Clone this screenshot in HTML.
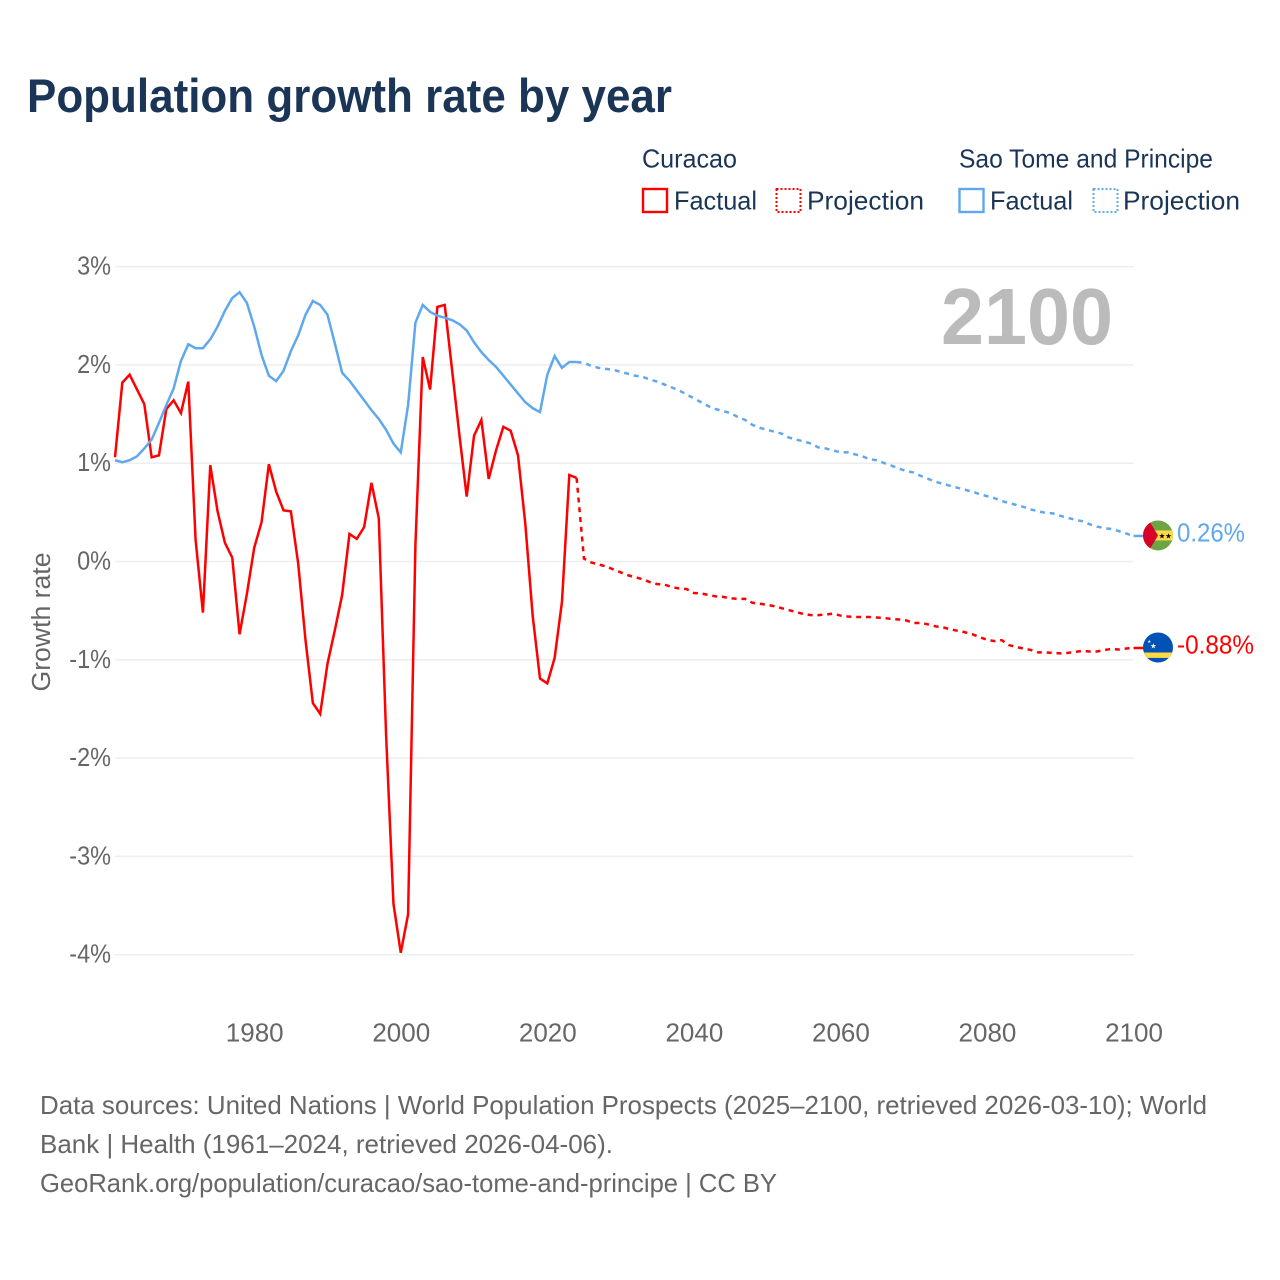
<!DOCTYPE html>
<html lang="en">
<head>
<meta charset="utf-8">
<title>Population growth rate by year</title>
<style>
html,body{margin:0;padding:0;background:#fff;width:1280px;height:1280px;overflow:hidden}
svg{display:block;font-family:"Liberation Sans",sans-serif}
</style>
</head>
<body>
<svg id="chart" xmlns="http://www.w3.org/2000/svg" width="1280" height="1280" viewBox="0 0 1280 1280">
  <defs>
    <clipPath id="flag-clip"><circle cx="0" cy="0" r="15"/></clipPath>
  </defs>
  <rect x="0" y="0" width="1280" height="1280" fill="#fff"/>
  <text x="27" y="112" font-size="47" font-weight="700" fill="#1a3556" textLength="645" lengthAdjust="spacingAndGlyphs">Population growth rate by year</text>

  <g font-size="26" fill="#1a3556">
    <text x="642" y="167.5" textLength="95" lengthAdjust="spacingAndGlyphs">Curacao</text>
    <text x="959" y="167.5" textLength="254" lengthAdjust="spacingAndGlyphs">Sao Tome and Principe</text>
    <rect x="643" y="189" width="24" height="23" fill="none" stroke="#ff0000" stroke-width="2.4"/>
    <text x="674" y="209.5" textLength="83" lengthAdjust="spacingAndGlyphs">Factual</text>
    <rect x="776.5" y="189" width="24" height="23" fill="none" stroke="#ff0000" stroke-width="2" stroke-dasharray="2 2"/>
    <text x="807" y="209.5" textLength="117" lengthAdjust="spacingAndGlyphs">Projection</text>
    <rect x="959.5" y="189" width="24" height="23" fill="none" stroke="#5fa8ee" stroke-width="2.4"/>
    <text x="990" y="209.5" textLength="83" lengthAdjust="spacingAndGlyphs">Factual</text>
    <rect x="1093.5" y="189" width="24" height="23" fill="none" stroke="#5fa8ee" stroke-width="2" stroke-dasharray="2 2"/>
    <text x="1123" y="209.5" textLength="117" lengthAdjust="spacingAndGlyphs">Projection</text>
  </g>

  <g id="grid"></g>
  <g id="yticks" font-size="25.5" fill="#666"></g>
  <g id="xticks" font-size="26" fill="#666"></g>

  <text transform="translate(50 622) rotate(-90)" text-anchor="middle" font-size="25.5" fill="#666" textLength="139" lengthAdjust="spacingAndGlyphs">Growth rate</text>
  <text x="941" y="344" font-size="80" font-weight="700" fill="#bbbbbb" textLength="172" lengthAdjust="spacingAndGlyphs">2100</text>

  <g id="series"></g>

  <g id="flag-stp">
    <g clip-path="url(#flag-clip)">
      <rect x="-15" y="-15" width="30" height="30" fill="#6da544"/>
      <rect x="-15" y="-5" width="30" height="10" fill="#ffda44"/>
      <path d="M-15 -15 H-9 L0 0 L-9 15 H-15 Z" fill="#d80027"/>
    </g>
    <text x="4" y="3.2" font-size="7.5" text-anchor="middle" fill="#000" font-family="DejaVu Sans, sans-serif">★</text>
    <text x="10.5" y="3.2" font-size="7.5" text-anchor="middle" fill="#000" font-family="DejaVu Sans, sans-serif">★</text>
  </g>
  <g id="flag-cuw">
    <g clip-path="url(#flag-clip)">
      <rect x="-15" y="-15" width="30" height="30" fill="#0052b4"/>
      <rect x="-15" y="5" width="30" height="5.4" fill="#ffda44"/>
    </g>
    <text x="-4.7" y="1" font-size="7.5" text-anchor="middle" fill="#f0f0f0" font-family="DejaVu Sans, sans-serif">★</text>
    <text x="-8.8" y="-4.5" font-size="4.5" text-anchor="middle" fill="#f0f0f0" font-family="DejaVu Sans, sans-serif">★</text>
  </g>

  <text id="label-stp" font-size="25.5" fill="#5fa8ee" textLength="68" lengthAdjust="spacingAndGlyphs"></text>
  <text id="label-cuw" font-size="25.5" fill="#ff0000" textLength="77" lengthAdjust="spacingAndGlyphs"></text>

  <g font-size="26" fill="#666">
    <text x="40" y="1114" textLength="1167" lengthAdjust="spacingAndGlyphs">Data sources: United Nations | World Population Prospects (2025–2100, retrieved 2026-03-10); World</text>
    <text x="40" y="1153" textLength="573" lengthAdjust="spacingAndGlyphs">Bank | Health (1961–2024, retrieved 2026-04-06).</text>
    <text x="40" y="1192" textLength="737" lengthAdjust="spacingAndGlyphs">GeoRank.org/population/curacao/sao-tome-and-principe | CC BY</text>
  </g>
</svg>
<script>
var firstFactualYear = 1961;
var firstProjectionYear = 2025;
var yTicks = [3, 2, 1, 0, -1, -2, -3, -4];
var xTicks = [1980, 2000, 2020, 2040, 2060, 2080, 2100];
var curacaoFactual = [
  1.06,1.82,1.90,1.75,1.60,1.06,1.08,1.55,1.64,1.51,
  1.83,0.22,-0.52,0.98,0.51,0.19,0.04,-0.74,-0.33,0.14,
  0.40,0.99,0.71,0.52,0.51,-0.02,-0.80,-1.44,-1.55,-1.04,
  -0.70,-0.34,0.28,0.23,0.35,0.80,0.44,-1.77,-3.48,-3.98,
  -3.59,0.17,2.08,1.75,2.59,2.61,1.95,1.29,0.66,1.28,
  1.44,0.84,1.13,1.37,1.33,1.08,0.38,-0.55,-1.19,-1.24,
  -0.98,-0.41,0.88,0.85
];
var curacaoProjection = [
  0.03,-0.01,-0.03,-0.05,-0.08,-0.11,-0.14,-0.16,-0.18,-0.21,
  -0.23,-0.235,-0.26,-0.275,-0.28,-0.32,-0.325,-0.34,-0.355,-0.36,
  -0.375,-0.38,-0.38,-0.42,-0.43,-0.44,-0.455,-0.475,-0.495,-0.515,
  -0.535,-0.545,-0.545,-0.54,-0.53,-0.55,-0.56,-0.565,-0.565,-0.565,
  -0.57,-0.575,-0.585,-0.59,-0.60,-0.625,-0.625,-0.64,-0.66,-0.67,
  -0.69,-0.705,-0.72,-0.74,-0.77,-0.795,-0.81,-0.80,-0.85,-0.87,
  -0.885,-0.90,-0.925,-0.925,-0.93,-0.935,-0.93,-0.92,-0.91,-0.915,
  -0.915,-0.90,-0.89,-0.895,-0.885,-0.88
];
var saoTomeFactual = [
  1.03,1.01,1.03,1.07,1.15,1.24,1.41,1.59,1.76,2.04,
  2.21,2.17,2.17,2.26,2.39,2.55,2.68,2.74,2.63,2.39,
  2.10,1.89,1.835,1.94,2.14,2.30,2.51,2.65,2.61,2.51,
  2.22,1.92,1.84,1.74,1.64,1.54,1.45,1.34,1.20,1.11,
  1.59,2.43,2.61,2.54,2.50,2.48,2.455,2.415,2.35,2.23,
  2.13,2.05,1.98,1.89,1.80,1.71,1.62,1.56,1.52,1.90,
  2.09,1.97,2.03,2.03
];
var saoTomeProjection = [
  2.02,1.99,1.97,1.96,1.95,1.93,1.91,1.89,1.88,1.85,
  1.83,1.80,1.77,1.74,1.70,1.66,1.62,1.58,1.55,1.53,
  1.51,1.47,1.44,1.39,1.36,1.34,1.32,1.30,1.26,1.24,
  1.22,1.20,1.16,1.15,1.13,1.11,1.11,1.09,1.07,1.04,
  1.03,1.00,0.975,0.945,0.92,0.905,0.87,0.84,0.81,0.79,
  0.77,0.75,0.73,0.71,0.685,0.665,0.645,0.615,0.595,0.575,
  0.555,0.53,0.51,0.495,0.49,0.465,0.445,0.425,0.41,0.38,
  0.355,0.34,0.33,0.31,0.285,0.26
];

var SVG_NS = 'http://www.w3.org/2000/svg';
var RED = '#ff0000';
var BLUE = '#5fa8ee';
var PLOT_LEFT = 115;
var PLOT_RIGHT = 1133.5;

function xScale(year) {
  return PLOT_LEFT + (year - firstFactualYear) * (PLOT_RIGHT - PLOT_LEFT) / (2100 - firstFactualYear);
}
function yScale(value) {
  return 561.5 - value * 98.3;
}
function pointsFrom(startYear, values) {
  return values.map(function (v, i) {
    return xScale(startYear + i).toFixed(2) + ' ' + yScale(v).toFixed(2);
  });
}
function addLine(parent, points, color, dash) {
  var el = document.createElementNS(SVG_NS, 'path');
  el.setAttribute('d', 'M' + points.join(' L'));
  el.setAttribute('fill', 'none');
  el.setAttribute('stroke', color);
  el.setAttribute('stroke-width', '2.5');
  if (dash) el.setAttribute('stroke-dasharray', dash);
  parent.appendChild(el);
  return el;
}

var grid = document.getElementById('grid');
var yTickGroup = document.getElementById('yticks');
yTicks.forEach(function (t) {
  var line = document.createElementNS(SVG_NS, 'line');
  
  
  line.setAttribute('x1', PLOT_LEFT);
  line.setAttribute('x2', PLOT_RIGHT);
  line.setAttribute('y1', yScale(t));
  line.setAttribute('y2', yScale(t));
  line.setAttribute('stroke', '#eeeeee');
  line.setAttribute('stroke-width', '1.5');
  grid.appendChild(line);

  var label = document.createElementNS(SVG_NS, 'text');
  
  
  label.setAttribute('x', 111);
  label.setAttribute('y', yScale(t) + 8);
  label.setAttribute('text-anchor', 'end');
  label.textContent = t + '%';
  yTickGroup.appendChild(label);
  label.setAttribute('textLength', (label.getComputedTextLength() * 0.92).toFixed(2));
  label.setAttribute('lengthAdjust', 'spacingAndGlyphs');
});

var xTickGroup = document.getElementById('xticks');
xTicks.forEach(function (t) {
  var label = document.createElementNS(SVG_NS, 'text');
  
  
  label.setAttribute('x', xScale(t) + 0.5);
  label.setAttribute('y', 1041.5);
  label.setAttribute('text-anchor', 'middle');
  label.textContent = t;
  xTickGroup.appendChild(label);
});

var seriesGroup = document.getElementById('series');
var DASH = '5 4.8';

var cf = addLine(seriesGroup, pointsFrom(firstFactualYear, curacaoFactual), RED);



var cuLastYear = firstFactualYear + curacaoFactual.length - 1;
var cp = addLine(seriesGroup,
  pointsFrom(cuLastYear, [curacaoFactual[curacaoFactual.length - 1]]).concat(pointsFrom(firstProjectionYear, curacaoProjection)),
  RED, DASH);



var sf = addLine(seriesGroup, pointsFrom(firstFactualYear, saoTomeFactual), BLUE);



var stLastYear = firstFactualYear + saoTomeFactual.length - 1;
var sp = addLine(seriesGroup,
  pointsFrom(stLastYear, [saoTomeFactual[saoTomeFactual.length - 1]]).concat(pointsFrom(firstProjectionYear, saoTomeProjection)),
  BLUE, DASH);



function placeEnd(values, color, flagId, labelId) {
  var endValue = values[values.length - 1];
  var endY = yScale(endValue);
  var connector = addLine(seriesGroup, [PLOT_RIGHT + ' ' + endY, '1144 ' + endY], color);
  
  
  document.getElementById(flagId).setAttribute('transform', 'translate(1158 ' + (endY - 0.5) + ')');
  var label = document.getElementById(labelId);
  label.setAttribute('x', 1177);
  label.setAttribute('y', endY + 5.5);
  label.textContent = endValue.toFixed(2) + '%';
}
placeEnd(saoTomeProjection, BLUE, 'flag-stp', 'label-stp');
placeEnd(curacaoProjection, RED, 'flag-cuw', 'label-cuw');
</script>
</body>
</html>
